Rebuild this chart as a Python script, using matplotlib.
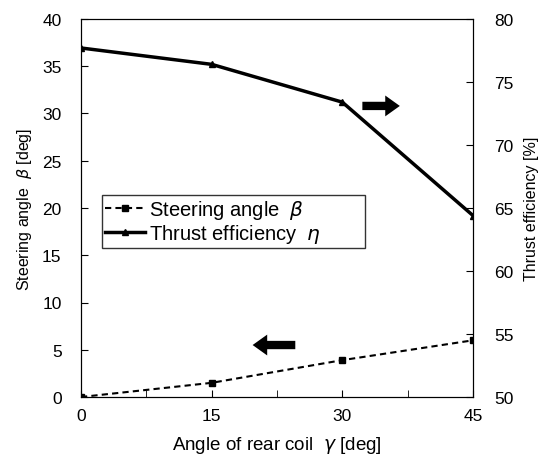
import numpy as np
import matplotlib
matplotlib.use('Agg')
import matplotlib.pyplot as plt
from matplotlib.ticker import MultipleLocator

coil_angle = [0, 15, 30, 45]
steering = [0.0, 1.5, 3.9, 6.0]
efficiency = [77.7, 76.4, 73.4, 64.4]

plt.rcParams['font.family'] = ['Liberation Sans', 'DejaVu Sans']

fig = plt.figure(figsize=(5.43, 4.64), dpi=100)
ax = fig.add_axes([81/543, 1 - 398/464, 392/543, 378/464])
ax2 = ax.twinx()

l1, = ax.plot(coil_angle, steering, 'k--', marker='s', ms=5, lw=1.5, dashes=(3, 2),
              label=r'Steering angle  $\beta$')
l2, = ax2.plot(coil_angle, efficiency, 'k-', marker='^', ms=4, lw=2.5,
               label=r'Thrust efficiency  $\eta$')

ax.set_xlim(0, 45)
ax.set_ylim(0, 40)
ax2.set_ylim(50, 80)
ax.set_xticks([0, 15, 30, 45])
ax.xaxis.set_minor_locator(MultipleLocator(7.5))
ax.set_yticks(np.arange(0, 41, 5))
ax2.set_yticks(np.arange(50, 81, 5))

for a in (ax, ax2):
    a.tick_params(direction='in', which='both', labelsize=12.5, length=5)
ax.tick_params(axis='x', pad=8)
ax.tick_params(axis='y', pad=14)
ax2.tick_params(axis='y', pad=15)

ax.set_xlabel(r'Angle of rear coil  $\gamma$ [deg]', fontsize=13.5, labelpad=8)
ax.set_ylabel(r'Steering angle  $\beta$ [deg]', fontsize=11.5, labelpad=6)
ax2.set_ylabel('Thrust efficiency [%]', fontsize=11.5, labelpad=8)

leg = ax.legend(handles=[l1, l2], loc='upper left', bbox_to_anchor=(0.054, 0.535, 0.67, 0),
                mode='expand', fontsize=14.5, frameon=True, fancybox=False, edgecolor='black',
                borderpad=0.15, borderaxespad=0, handlelength=2.0, handletextpad=0.2,
                labelspacing=0.05)
leg.get_frame().set_linewidth(1.0)

# direction arrows
arrow = dict(arrowstyle='simple,head_length=0.7,head_width=1.0,tail_width=0.4',
             fc='black', ec='black', lw=0, mutation_scale=15, shrinkA=0, shrinkB=0)
ax.annotate('', xy=(36.6, 30.8), xytext=(32.3, 30.8), arrowprops=arrow)
ax.annotate('', xy=(19.7, 5.5), xytext=(24.6, 5.5), arrowprops=arrow)

fig.savefig('out.png', dpi=100)
